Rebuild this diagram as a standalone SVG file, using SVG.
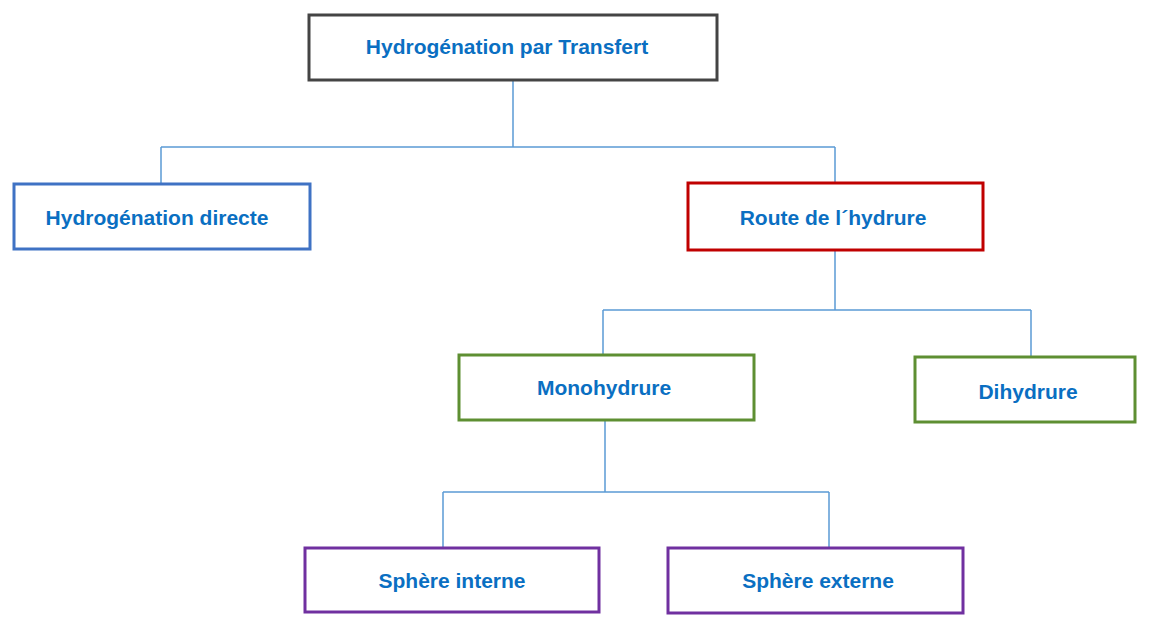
<svg xmlns="http://www.w3.org/2000/svg" width="1150" height="639" viewBox="0 0 1150 639">
<style>
.box{fill:#ffffff;stroke-width:3}
.t{font-family:"Liberation Sans",Arial,sans-serif;font-weight:bold;font-size:21px;fill:#0a6fc2;text-anchor:middle}
.c{fill:none;stroke:#5b9bd5;stroke-width:1.5}
</style>
<rect width="1150" height="639" fill="#ffffff"/>
<g id="connectors">
<path class="c" d="M513 80V147M161 147H835M161 147V184M835 147V183"/>
<path class="c" d="M835 250V310M603 310H1031M603 310V355M1031 310V357"/>
<path class="c" d="M605 420V492M443 492H829M443 492V548M829 492V548"/>
</g>
<g id="n-top"><rect class="box" x="309" y="15" width="408" height="65" stroke="#444444"/><text class="t" x="507" y="54">Hydrogénation par Transfert</text></g>
<g id="n-direct"><rect class="box" x="14" y="184" width="296" height="65" stroke="#3f72c4"/><text class="t" x="157" y="225">Hydrogénation directe</text></g>
<g id="n-route"><rect class="box" x="688" y="183" width="295" height="67" stroke="#c00000"/><text class="t" x="833" y="225">Route de l´hydrure</text></g>
<g id="n-mono"><rect class="box" x="459" y="355" width="295" height="65" stroke="#5e8f32"/><text class="t" x="604" y="395">Monohydrure</text></g>
<g id="n-di"><rect class="box" x="915" y="357" width="220" height="65" stroke="#5e8f32"/><text class="t" x="1028" y="399">Dihydrure</text></g>
<g id="n-interne"><rect class="box" x="305" y="548" width="294" height="64" stroke="#7030a0"/><text class="t" x="452" y="588">Sphère interne</text></g>
<g id="n-externe"><rect class="box" x="668" y="548" width="295" height="65" stroke="#7030a0"/><text class="t" x="818" y="588">Sphère externe</text></g>
</svg>
